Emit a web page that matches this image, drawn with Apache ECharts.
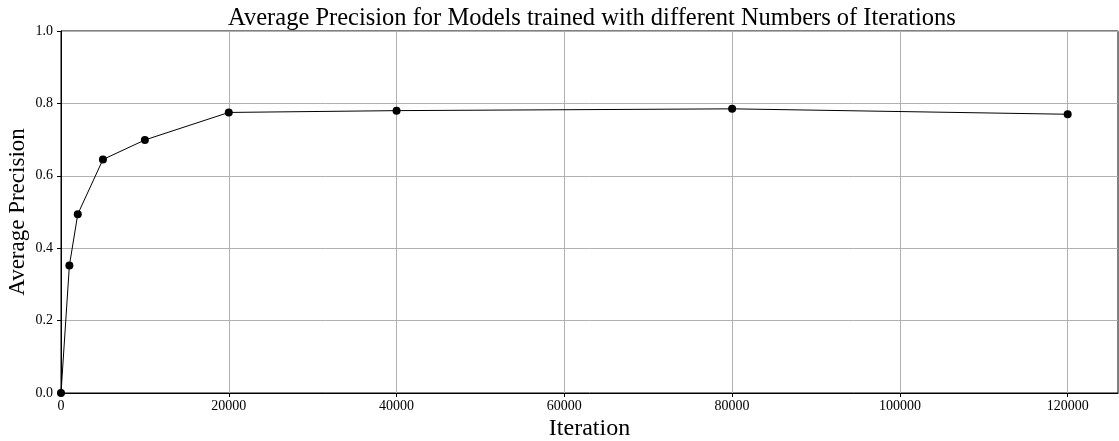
<!DOCTYPE html>
<html><head><meta charset="utf-8">
<script src="https://cdn.jsdelivr.net/npm/echarts@6/dist/echarts.min.js"></script>
<style>html,body{margin:0;padding:0;background:#fff}#c{width:1119px;height:441px}</style>
</head><body><div id="c"></div>
<script>
const iterations = [0, 1000, 2000, 5000, 10000, 20000, 40000, 80000, 120000];
const precision = [0.0, 0.352, 0.494, 0.645, 0.699, 0.775, 0.780, 0.785, 0.770];
const xTicks = [0, 20000, 40000, 60000, 80000, 100000, 120000];
const yTicks = [0.0, 0.2, 0.4, 0.6, 0.8, 1.0];
const FONT = '"Liberation Serif", "DejaVu Serif", serif';
const chart = echarts.init(document.getElementById('c'), null, {renderer: 'canvas'});
chart.setOption({
  animation: false,
  backgroundColor: '#fff',
  title: {
    text: 'Average Precision for Models trained with different Numbers of Iterations',
    left: 587, top: 1, textAlign: 'center',
    textStyle: {fontFamily: FONT, fontSize: 24.5, fontWeight: 'normal', color: '#000'}
  },
  grid: {left: 61, right: 1, top: 31, bottom: 48, show: true, borderColor: '#000', borderWidth: 1,
    backgroundColor: 'transparent', outerBoundsMode: 'none', containLabel: false},
  xAxis: {
    type: 'value', min: 0, max: 126000, interval: 20000,
    name: 'Iteration', nameLocation: 'middle', nameGap: 24, nameMoveOverlap: false,
    nameTextStyle: {fontFamily: FONT, fontSize: 24, color: '#000'},
    axisLine: {show: true, lineStyle: {color: '#000', width: 1}},
    axisTick: {show: true, length: 4, customValues: xTicks, lineStyle: {color: '#000', width: 1}},
    axisLabel: {fontFamily: FONT, fontSize: 14, color: '#000', margin: 6, customValues: xTicks,
      formatter: v => String(v)},
    splitLine: {show: true, lineStyle: {color: '#b0b0b0', width: 1}}
  },
  yAxis: {
    type: 'value', min: 0, max: 1, interval: 0.2,
    name: 'Average Precision', nameLocation: 'middle', nameGap: 32, nameMoveOverlap: false,
    nameTextStyle: {fontFamily: FONT, fontSize: 23, color: '#000'},
    axisLine: {show: true, lineStyle: {color: '#000', width: 1}},
    axisTick: {show: true, length: 4, lineStyle: {color: '#000', width: 1}},
    axisLabel: {fontFamily: FONT, fontSize: 14, color: '#000', margin: 8,
      formatter: v => (yTicks.some(t => Math.abs(t - v) < 1e-9) ? v.toFixed(1) : '')},
    splitLine: {show: true, lineStyle: {color: '#b0b0b0', width: 1}}
  },
  series: [{
    type: 'line',
    data: iterations.map((x, i) => [x, precision[i]]),
    symbol: 'circle', symbolSize: 8,
    lineStyle: {color: '#000', width: 1},
    itemStyle: {color: '#000'},
    clip: false
  }]
});
</script></body></html>
